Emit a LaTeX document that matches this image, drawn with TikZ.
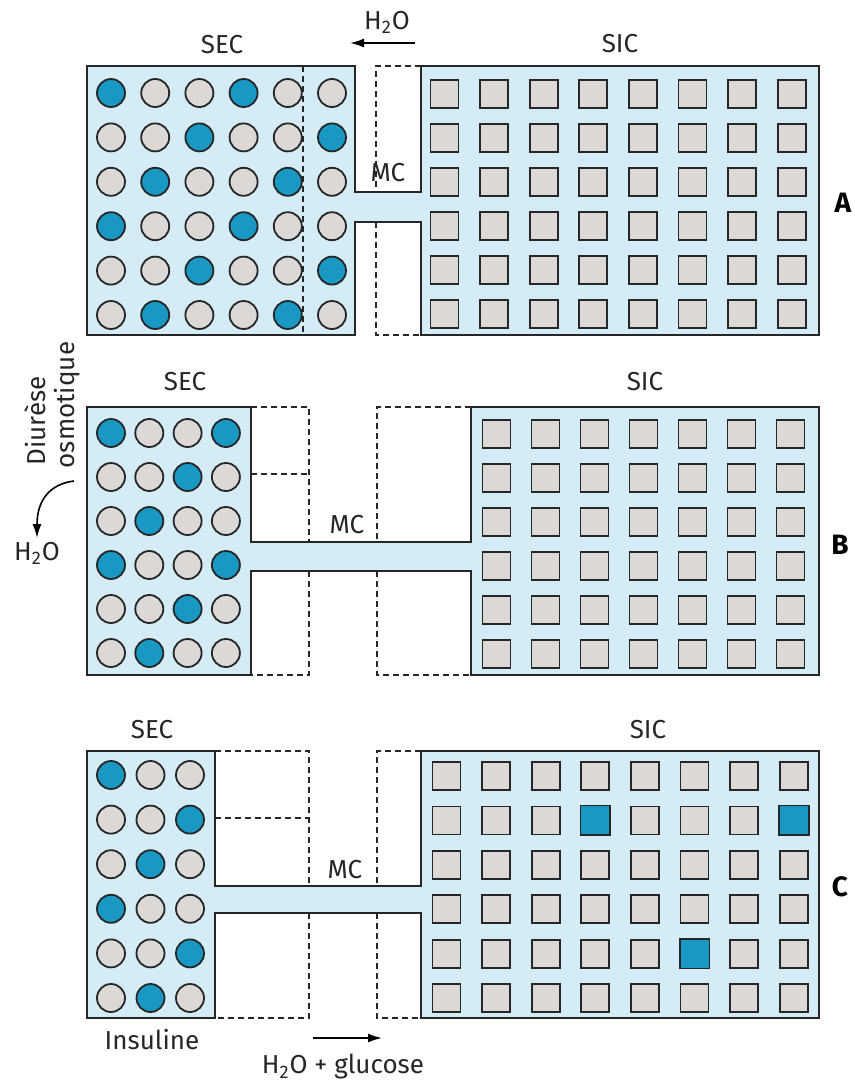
\documentclass[tikz,border=0pt]{standalone}
\usepackage{fontspec}
\setmainfont{Fira Sans}
\usepackage{xcolor}
\usepackage{tikz}
\usetikzlibrary{arrows.meta}

\definecolor{fluid}{HTML}{D3ECF5}
\definecolor{solute}{HTML}{DBD8D6}
\definecolor{glucose}{HTML}{1898C2}
\definecolor{ink}{HTML}{262626}

\tikzset{
  compartment/.style={fill=fluid, draw=ink, line width=1pt},
  limit/.style={draw=ink, dash pattern=on 3pt off 2pt, line width=0.65pt},
  molecule/.style={circle, draw=ink, line width=0.9pt, minimum size=14pt, inner sep=0pt},
  cellbox/.style={rectangle, draw=ink, fill=solute, line width=0.9pt, minimum size=14pt, inner sep=0pt},
  label/.style={font=\fontsize{13}{15}\selectfont, text=ink, inner sep=0pt},
  tag/.style={font=\fontsize{14}{16}\selectfont\bfseries, text=black, inner sep=0pt},
  flow/.style={-{Latex[length=7pt, width=4.5pt]}, line width=0.8pt, draw=black}
}

% molecules of the SEC: #1 name, #2 x0, #3 dx, #4 columns, #5 y0, #6 dy
\newcommand{\solutes}[6]{%
  \foreach \r in {1,...,6} \foreach \c in {1,...,#4} {
    \pgfmathtruncatemacro\k{mod(\r+\c,3)}
    \ifnum\k=2 \def\tint{glucose}\else\def\tint{solute}\fi
    \node[molecule, fill=\tint] (#1-\r-\c) at ({#2+(\c-1)*#3}, {#5+(\r-1)*#6}) {};
  }}
% cells of the SIC: same arguments
\newcommand{\cells}[6]{%
  \foreach \r in {1,...,6} \foreach \c in {1,...,#4}
    \node[cellbox] (#1-\r-\c) at ({#2+(\c-1)*#3}, {#5+(\r-1)*#6}) {};}

\begin{document}
\begin{tikzpicture}[x=0.5pt, y=-0.5pt]
    \useasboundingbox (0,0) rectangle (855,1082);

    % A
    \draw[compartment] (87,66) -| (355,192) -| (421,66) -| (819,335) -| (421,222) -| (355,335) -| cycle;
    \draw[limit] (303,66) -- (303,335);
    \draw[limit] (421,66) -| (376,192) (376,222) |- (421,335);
    \solutes{ma}{111}{44.2}{6}{93}{44.4}
    \cells{sa}{444.5}{49.6}{8}{94}{44}
    \node[label] (sec-a) at (222,45) {SEC};
    \node[label] (sic-a) at (620,44) {SIC};
    \node[label] (mc-a) at (388,173) {MC};
    \node[tag] (tag-a) at (843,203) {A};
    \node[label] (water-a) at (387,22) {H\textsubscript{2}O};
    \coordinate (from-a) at (415,43);
    \coordinate (to-a) at (350,43);
    \draw[flow] (from-a) -- (to-a);

    % B
    \draw[compartment] (87,407) -| (251,542) -| (471,407) -| (819,675) -| (471,571) -| (251,675) -| cycle;
    \draw[limit] (251,407) -| (309,542) (309,571) |- (251,675);
    \draw[limit] (251,474) -- (309,474);
    \draw[limit] (471,407) -| (377,542) (377,571) |- (471,675);
    \solutes{mb}{111}{38.3}{4}{433}{44}
    \cells{sb}{496.5}{49}{7}{434}{44}
    \node[label] (sec-b) at (185,382) {SEC};
    \node[label] (sic-b) at (645,382) {SIC};
    \node[label] (mc-b) at (347,525) {MC};
    \node[tag] (tag-b) at (840,545) {B};
    \node[label, rotate=90] (diuresis) at (35,421) {Diurèse};
    \node[label, rotate=90] (osmotic) at (67,405) {osmotique};
    \node[label] (water-b) at (37,553) {H\textsubscript{2}O};
    \coordinate (from-b) at (74,481);
    \coordinate (to-b) at (37,538);
    \draw[flow] (from-b) .. controls (50,484) and (37,500) .. (to-b);

    % C
    \draw[compartment] (87,751) -| (215,886) -| (421,751) -| (819,1018) -| (421,913) -| (215,1018) -| cycle;
    \draw[limit] (215,751) -| (309,886) (309,913) |- (215,1018);
    \draw[limit] (215,818) -- (309,818);
    \draw[limit] (421,751) -| (377,886) (377,913) |- (421,1018);
    \solutes{mc}{111}{39.5}{3}{775}{44.6}
    \cells{sc}{446.5}{49.6}{8}{776}{44.4}
    \foreach \r/\c in {2/4, 2/8, 5/6}
        \draw[fill=glucose, draw=ink, line width=0.9pt] (sc-\r-\c.south west) rectangle (sc-\r-\c.north east);
    \node[label] (sec-c) at (152,730) {SEC};
    \node[label] (sic-c) at (648,730) {SIC};
    \node[label] (mc-c) at (345,870) {MC};
    \node[tag] (tag-c) at (840,887) {C};
    \node[label] (insulin) at (152,1040) {Insuline};
    \node[label] (water-c) at (343,1067) {H\textsubscript{2}O + glucose};
    \coordinate (from-c) at (313,1038);
    \coordinate (to-c) at (382,1038);
    \draw[flow] (from-c) -- (to-c);
\end{tikzpicture}
\end{document}
